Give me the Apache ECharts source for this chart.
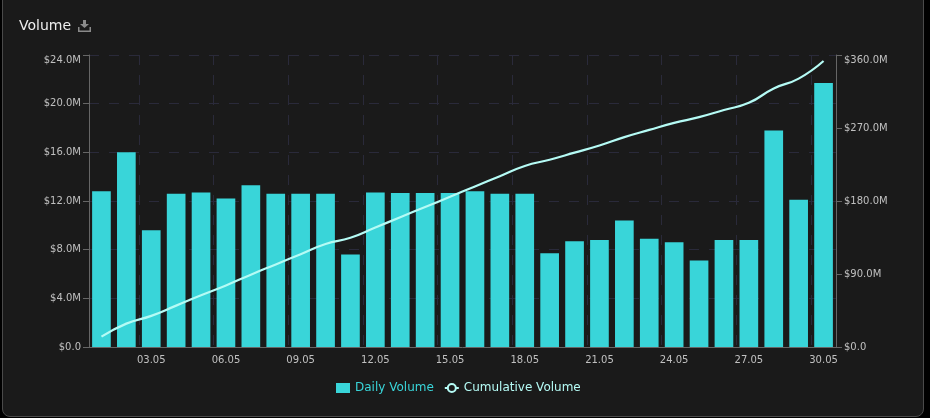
<!DOCTYPE html>
<html><head><meta charset="utf-8">
<style>html,body{margin:0;padding:0;background:#000;width:930px;height:418px;overflow:hidden}
#card{position:absolute;left:2px;top:-10px;width:920px;height:425px;background:#1a1a1a;border:1px solid #4a4a4a;border-radius:8px;overflow:hidden}
#c{position:absolute;left:-3px;top:9px;width:930px;height:418px}</style>
<script src="https://cdn.jsdelivr.net/npm/echarts@6/dist/echarts.min.js"></script></head>
<body><div id="card"><div id="c"></div></div>
<script>
const days=['01.05','02.05','03.05','04.05','05.05','06.05','07.05','08.05','09.05','10.05','11.05','12.05','13.05','14.05','15.05','16.05','17.05','18.05','19.05','20.05','21.05','22.05','23.05','24.05','25.05','26.05','27.05','28.05','29.05','30.05'];
const dailyVolume=[12.8,16.0,9.6,12.6,12.7,12.2,13.3,12.6,12.6,12.6,7.6,12.7,12.65,12.65,12.65,12.8,12.6,12.6,7.7,8.7,8.8,10.4,8.9,8.6,7.1,8.8,8.8,17.8,12.1,21.7];
const cumulativeVolume=[12.8,28.8,38.4,51,63.7,75.9,89.2,101.8,114.4,127,134.6,147.3,160,172.6,185.2,198,210.6,223.2,230.9,239.6,248.4,258.8,267.7,276.3,283.4,292.2,301,318.8,330.9,352.6];
const FONT='"DejaVu Sans"';
const every3=(i)=>i%3===2;
const fmt=v=>v===0?'$0.0':'$'+v.toFixed(1)+'M';
const dash={color:'#2a2a3a',type:[10,10],width:1};
const DOWNLOAD='path://M5 0H8V4H11L6.5 8L2 4H5ZM0 7H1.5V10.5H11.5V7H13V12H0Z';
const chart=echarts.init(document.getElementById('c'),null,{renderer:'canvas'});
chart.setOption({
 animation:false,
 backgroundColor:'transparent',
 textStyle:{fontFamily:FONT},
 title:{text:'Volume',left:14,top:14,textStyle:{color:'#eeeeee',fontSize:14,fontWeight:'normal',fontFamily:FONT}},
 toolbox:{left:78,top:20,padding:0,itemSize:13,showTitle:false,feature:{saveAsImage:{icon:DOWNLOAD}},iconStyle:{color:'#8a8a8a',borderWidth:0}},
 legend:{bottom:19,left:331,itemWidth:14,itemHeight:10,itemGap:10,textStyle:{fontSize:12,fontFamily:FONT},
  data:[{name:'Daily Volume',icon:'rect',textStyle:{color:'#39d5d9'}},{name:'Cumulative Volume',textStyle:{color:'#b5fbf5'}}]},
 grid:{left:89,right:94,top:55,bottom:71},
 xAxis:{type:'category',data:days,
  axisLine:{lineStyle:{color:'#666',width:1}},
  axisTick:{alignWithLabel:true,interval:every3,length:5,lineStyle:{color:'#666'}},
  axisLabel:{interval:every3,color:'#c0c0c0',fontSize:10,fontFamily:FONT,margin:8},
  splitLine:{show:true,interval:every3,lineStyle:dash}},
 yAxis:[
  {type:'value',min:0,max:24,interval:4,
   axisLine:{show:true,lineStyle:{color:'#666'}},axisTick:{show:true,length:6,lineStyle:{color:'#666'}},
   axisLabel:{color:'#c0c0c0',fontSize:10,fontFamily:FONT,formatter:fmt,margin:8,verticalAlignMaxLabel:'top'},
   splitLine:{show:true,lineStyle:dash}},
  {type:'value',min:0,max:360,interval:90,position:'right',
   axisLine:{show:true,lineStyle:{color:'#666'}},axisTick:{show:true,length:6,lineStyle:{color:'#666'}},
   axisLabel:{color:'#c0c0c0',fontSize:10,fontFamily:FONT,formatter:fmt,margin:8,verticalAlignMaxLabel:'top'},
   splitLine:{show:false}}],
 series:[
  {name:'Daily Volume',type:'bar',data:dailyVolume,barWidth:'75%',itemStyle:{color:'#39d5d9'}},
  {name:'Cumulative Volume',type:'line',yAxisIndex:1,data:cumulativeVolume,smooth:true,showSymbol:false,symbol:'circle',symbolSize:6,
   lineStyle:{color:'#b5fbf5',width:2.2},itemStyle:{color:'#1a1a1a',borderColor:'#b5fbf5',borderWidth:1.5}}
 ]
});
</script></body></html>
